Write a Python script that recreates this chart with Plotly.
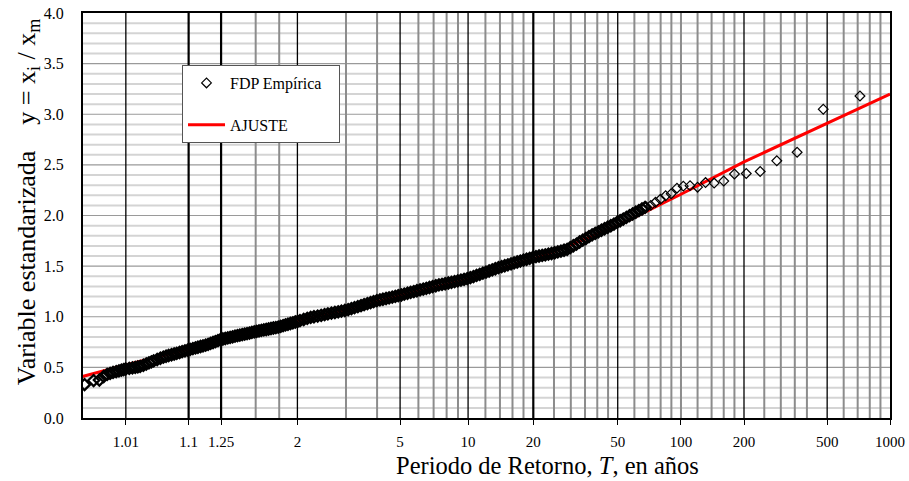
import numpy as np
import plotly.graph_objects as go

# ---------------- data ----------------
# Empirical points: upper tail (return period T, standardized value y)
tail_T = [718, 479, 359, 287, 239, 205, 180, 160, 144, 131, 120, 110.5, 102.6,
          95.7, 89.8, 84.5, 79.8, 75.6, 71.8, 68.4]
tail_y = [3.18, 3.05, 2.625, 2.54, 2.435, 2.415, 2.41, 2.34, 2.32, 2.325, 2.28,
          2.295, 2.29, 2.27, 2.215, 2.195, 2.16, 2.13, 2.10, 2.085]

# Empirical points: dense body (T < 68)
body_T = [1.0007, 1.0014, 1.0021, 1.0028, 1.0035, 1.0042, 1.005, 1.006, 1.007, 1.008,
          1.009, 1.010, 1.012, 1.014, 1.016, 1.018, 1.020, 1.023, 1.026, 1.029,
          1.032, 1.035, 1.04, 1.045, 1.05, 1.055, 1.06, 1.066, 1.072, 1.078,
          1.085, 1.092, 1.10, 1.108, 1.116, 1.125, 1.134, 1.143, 1.153, 1.163,
          1.174, 1.185, 1.196, 1.208, 1.22, 1.233, 1.246, 1.26, 1.274, 1.289,
          1.304, 1.32, 1.336, 1.353, 1.37, 1.388, 1.407, 1.426, 1.446, 1.466,
          1.487, 1.509, 1.531, 1.554, 1.578, 1.603, 1.628, 1.654, 1.681, 1.709,
          1.738, 1.768, 1.799, 1.83, 1.863, 1.897, 1.932, 1.968, 2.005, 2.04,
          2.1, 2.16, 2.22, 2.28, 2.35, 2.42, 2.49, 2.56, 2.64, 2.72,
          2.8, 2.88, 2.97, 3.06, 3.15, 3.24, 3.34, 3.44, 3.54, 3.65,
          3.76, 3.87, 3.99, 4.11, 4.23, 4.36, 4.49, 4.63, 4.77, 4.91,
          5.06, 5.21, 5.38, 5.55, 5.73, 5.91, 6.10, 6.30, 6.50, 6.71,
          6.93, 7.16, 7.39, 7.63, 7.88, 8.14, 8.41, 8.69, 8.98, 9.28,
          9.59, 9.91, 10.24, 10.58, 10.93, 11.30, 11.68, 12.07, 12.48, 12.90,
          13.33, 13.78, 14.25, 14.73, 15.23, 15.75, 16.28, 16.83, 17.40, 18.00,
          18.61, 19.24, 19.90, 20.58, 21.28, 22.01, 22.76, 23.54, 24.35, 25.19,
          26.05, 26.95, 27.87, 28.83, 29.82, 30.85, 31.91, 33.01, 34.15, 35.33,
          36.55, 37.81, 39.12, 40.47, 41.87, 43.32, 44.82, 46.37, 47.98, 49.64,
          51.36, 53.14, 54.98, 56.89, 58.86, 60.91, 63.02, 65.21, 67.47]
body_y = [0.33, 0.37, 0.375, 0.41, 0.43, 0.44, 0.45, 0.458, 0.465, 0.472,
          0.478, 0.484, 0.490, 0.495, 0.500, 0.505, 0.510, 0.521, 0.533, 0.545,
          0.555, 0.564, 0.578, 0.590, 0.601, 0.610, 0.617, 0.625, 0.632, 0.639,
          0.647, 0.655, 0.663, 0.671, 0.678, 0.686, 0.692, 0.699, 0.706, 0.712,
          0.719, 0.728, 0.737, 0.746, 0.755, 0.764, 0.773, 0.780, 0.785, 0.791,
          0.796, 0.802, 0.808, 0.813, 0.818, 0.824, 0.829, 0.834, 0.839, 0.845,
          0.850, 0.855, 0.860, 0.865, 0.870, 0.874, 0.879, 0.884, 0.889, 0.893,
          0.898, 0.905, 0.912, 0.919, 0.926, 0.933, 0.940, 0.948, 0.955, 0.962,
          0.973, 0.984, 0.993, 1.000, 1.007, 1.014, 1.021, 1.028, 1.035, 1.042,
          1.049, 1.055, 1.062, 1.071, 1.081, 1.090, 1.100, 1.110, 1.120, 1.130,
          1.140, 1.149, 1.159, 1.166, 1.173, 1.180, 1.187, 1.194, 1.201, 1.208,
          1.215, 1.224, 1.232, 1.241, 1.249, 1.257, 1.265, 1.273, 1.281, 1.289,
          1.298, 1.306, 1.314, 1.320, 1.326, 1.333, 1.340, 1.347, 1.354, 1.362,
          1.369, 1.376, 1.386, 1.397, 1.408, 1.419, 1.430, 1.441, 1.452, 1.463,
          1.474, 1.485, 1.495, 1.504, 1.513, 1.522, 1.532, 1.541, 1.550, 1.559,
          1.568, 1.577, 1.587, 1.594, 1.600, 1.606, 1.612, 1.619, 1.625, 1.632,
          1.640, 1.648, 1.657, 1.665, 1.683, 1.701, 1.718, 1.738, 1.756, 1.773,
          1.791, 1.808, 1.824, 1.839, 1.854, 1.869, 1.884, 1.899, 1.915, 1.932,
          1.948, 1.965, 1.981, 1.998, 2.015, 2.032, 2.048, 2.064, 2.080]

# Fitted distribution (AJUSTE)
fit_T = [1.0006, 1.01, 1.1, 1.25, 1.5, 2, 3, 5, 10, 20, 30, 50, 100, 200, 500, 1000]
fit_y = [0.41, 0.525, 0.67, 0.77, 0.86, 0.96, 1.07, 1.21, 1.37, 1.57, 1.71, 1.90,
         2.21, 2.53, 2.91, 3.20]

# Axis ticks (return periods) and labels
tick_T = [1.0101, 1.1111, 1.25, 2, 5, 10, 20, 50, 100, 200, 500, 1000]
tick_text = ["1.01", "1.1", "1.25", "2", "5", "10", "20", "50", "100", "200", "500", "1000"]

# Vertical grid lines (return periods)
grid_gray_T = [1.5, 1.75, 3, 4, 6, 7, 8, 9, 12, 14, 16, 18, 25, 30, 35, 40, 45,
               60, 70, 80, 90, 100, 120, 140, 160, 180, 250, 300, 350, 400,
               600, 700, 800, 900]
grid_black_T = [1.0101, 2, 5, 10, 50, 200, 500]
grid_black_thick_T = [1.1111, 1.25, 20]

# Horizontal grid (y values)
y_minor_grid = [round(0.1 * k, 1) for k in range(1, 40) if k % 5 != 0]
y_major_grid = [0.5, 1.0, 1.5, 2.0, 2.5, 3.0, 3.5]


def gumbel(T):
    T = np.asarray(T, dtype=float)
    return -np.log(-np.log(1.0 - 1.0 / T))


FONT = "Liberation Serif, Times New Roman, serif"
NB = "\u00a0"

fig = go.Figure()

fig.add_trace(go.Scatter(
    x=gumbel(fit_T), y=fit_y, mode="lines", name="AJUSTE",
    line=dict(color="#ff0000", width=3), legendrank=2, legendgroup="b",
    hoverinfo="skip"))

fig.add_trace(go.Scatter(
    x=gumbel(body_T), y=body_y, mode="markers", name="FDP Empírica",
    marker=dict(symbol="diamond-open", size=8.5, color="black",
                line=dict(color="black", width=2.3)),
    legendgroup="a", showlegend=False))

fig.add_trace(go.Scatter(
    x=gumbel(tail_T), y=tail_y, mode="markers", name="FDP Empírica" + NB * 3,
    marker=dict(symbol="diamond-open", size=7.5, color="black",
                line=dict(color="black", width=1.2)),
    legendrank=1, legendgroup="a"))

shapes = []
for v in y_minor_grid:
    shapes.append(dict(type="line", xref="paper", yref="y", x0=0, x1=1, y0=v, y1=v,
                       line=dict(color="#d4d4d4", width=2), layer="below"))
for v in y_major_grid:
    shapes.append(dict(type="line", xref="paper", yref="y", x0=0, x1=1, y0=v, y1=v,
                       line=dict(color="#9a9a9a", width=1.2), layer="below"))
for T in grid_gray_T:
    u = float(gumbel(T))
    shapes.append(dict(type="line", xref="x", yref="paper", x0=u, x1=u, y0=0, y1=1,
                       line=dict(color="#8c8c8c", width=2), layer="below"))
for T in grid_black_T:
    u = float(gumbel(T))
    shapes.append(dict(type="line", xref="x", yref="paper", x0=u, x1=u, y0=0, y1=1,
                       line=dict(color="black", width=1.3), layer="below"))
for T in grid_black_thick_T:
    u = float(gumbel(T))
    shapes.append(dict(type="line", xref="x", yref="paper", x0=u, x1=u, y0=0, y1=1,
                       line=dict(color="black", width=2.2), layer="below"))

annotations = [
    dict(text="Variable estandarizada" + NB * 4 + "y = x<sub>i</sub> / x<sub>m</sub>",
         xref="paper", yref="paper", x=-0.068, y=0.533, textangle=-90,
         showarrow=False, xanchor="center", yanchor="middle",
         font=dict(family=FONT, size=26, color="black")),
    dict(text="Periodo de Retorno, <i>T</i>, en años",
         xref="paper", yref="paper", x=0.5756, y=-0.1185,
         showarrow=False, xanchor="center", yanchor="middle",
         font=dict(family=FONT, size=24.5, color="black")),
]

fig.update_layout(
    width=909, height=481,
    margin=dict(l=83, r=19, t=13, b=63, autoexpand=False),
    paper_bgcolor="white", plot_bgcolor="white",
    font=dict(family=FONT, color="black", size=15),
    shapes=shapes, annotations=annotations,
    showlegend=True,
    legend=dict(x=0.1227, y=0.8716, xanchor="left", yanchor="top",
                bgcolor="white", bordercolor="#555555", borderwidth=1,
                font=dict(family=FONT, size=16), tracegroupgap=18,
                traceorder="grouped", itemwidth=37),
    xaxis=dict(
        range=[-2.0, float(gumbel(1000))],
        tickmode="array", tickvals=gumbel(tick_T), ticktext=tick_text,
        showgrid=False, zeroline=False, automargin=False,
        showline=True, linecolor="black", linewidth=2, mirror=True,
        ticks="outside", ticklen=5, tickcolor="black", tickwidth=1,
        ticklabelstandoff=4,
        tickfont=dict(family=FONT, size=15),
    ),
    yaxis=dict(
        range=[0, 4], dtick=0.5, tickformat=".1f",
        showgrid=False, zeroline=False, automargin=False,
        showline=True, linecolor="black", linewidth=2, mirror=True,
        ticks="", ticklabelstandoff=14,
        tickfont=dict(family=FONT, size=16),
    ),
)

fig.write_html("out.html", config={"displayModeBar": False},
               post_script="document.body.style.margin='0px';")
